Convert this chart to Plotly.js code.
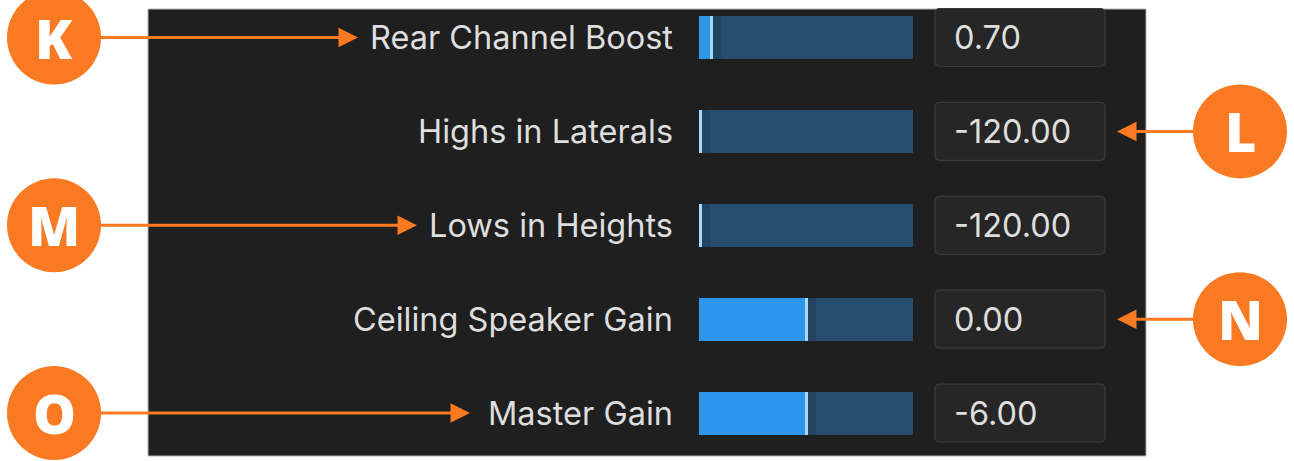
<!DOCTYPE html>
<html>
<head>
<meta charset="utf-8">
<script src="https://cdn.plot.ly/plotly-3.0.1.min.js"></script>
<style>html,body{margin:0;padding:0;background:#fff;}#chart{width:1294px;height:461px;}</style>
</head>
<body>
<div id="chart"></div>
<script>
// ---- data ----
const labels = ["Rear Channel Boost", "Highs in Laterals", "Lows in Heights", "Ceiling Speaker Gain", "Master Gain"];
const values = [0.70, -120.00, -120.00, 0.00, -6.00];
const sliderPos = [0.058, 0.007, 0.007, 0.5, 0.5];      // slider handle position (fraction of track)
const calloutLetters = ["K", "L", "M", "N", "O"];
const calloutSides = ["left", "right", "left", "right", "left"];

// ---- layout geometry (pixels) ----
const W = 1294, H = 461;
const trackL = 699, trackR = 913, trackPx = trackR - trackL;
const row0 = 37.5, rowStep = 93.9;
const barPx = 43;
const px2x = p => (p - trackL) / trackPx;
const idx = labels.map((_, i) => i);

const trackColor = "#264d6d", fillColor = "#2b96eb", handleColor = "#a8d6fa";
const orange = "#f97a22";
const textFont = {family: "Inter, 'Noto Sans', sans-serif", size: 32.5, color: "#dedede"};

const handleW = 3 / trackPx;
const traces = [
  {type: "bar", orientation: "h", y: idx, x: idx.map(() => 1), base: 0, width: barPx / rowStep,
   marker: {color: trackColor, line: {width: 0}}, hoverinfo: "skip"},
  {type: "bar", orientation: "h", y: idx, x: sliderPos, base: 0, width: barPx / rowStep,
   marker: {color: fillColor, line: {width: 0}}, hoverinfo: "skip"},
  {type: "bar", orientation: "h", y: idx, x: sliderPos.map(() => 8 / trackPx), base: sliderPos.map(p => p + handleW / 2),
   width: barPx / rowStep, marker: {color: "rgba(20,45,70,0.25)", line: {width: 0}}, hoverinfo: "skip"},
  {type: "bar", orientation: "h", y: idx, x: sliderPos.map(() => handleW), base: sliderPos.map(p => p - handleW / 2),
   width: barPx / rowStep, marker: {color: handleColor, line: {width: 0}}, hoverinfo: "skip"}
];

const shapes = [];
// dark panel
shapes.push({type: "rect", xref: "paper", yref: "paper", x0: 148 / W, x1: 1146 / W, y0: 1 - 456 / H, y1: 1 - 9 / H,
  fillcolor: "#1f1f1f", line: {color: "#b5b5b5", width: 1}, layer: "below"});
// value boxes (rounded)
const bx0 = px2x(935), bx1 = px2x(1105), bh = 58 / rowStep / 2, rx = 5 / trackPx, ry = 5 / rowStep;
idx.forEach(i => {
  const y0 = i - bh, y1 = i + bh;
  const p = `M ${bx0 + rx},${y0} L ${bx1 - rx},${y0} Q ${bx1},${y0} ${bx1},${y0 + ry} L ${bx1},${y1 - ry} Q ${bx1},${y1} ${bx1 - rx},${y1} L ${bx0 + rx},${y1} Q ${bx0},${y1} ${bx0},${y1 - ry} L ${bx0},${y0 + ry} Q ${bx0},${y0} ${bx0 + rx},${y0} Z`;
  shapes.push({type: "path", xref: "x", yref: "y", path: p, fillcolor: "#262626", line: {color: "#3b3b3b", width: 1.2}, layer: "below"});
});

const annotations = [];
idx.forEach(i => {
  annotations.push({xref: "paper", yref: "y", x: 675 / W, y: i, xanchor: "right", yanchor: "middle", showarrow: false,
    text: labels[i], font: textFont});
  annotations.push({xref: "x", yref: "y", x: px2x(952), y: i, xanchor: "left", yanchor: "middle", showarrow: false,
    text: values[i].toFixed(2), font: textFont});
});

// callouts
const R = 47;
const tipPx = {K: 358, L: 1117, M: 417, N: 1117, O: 470};
idx.forEach(i => {
  const letter = calloutLetters[i], side = calloutSides[i];
  const cx = side === "left" ? 54 : 1240;
  shapes.push({type: "circle", xref: "paper", yref: "y", xsizemode: "pixel", ysizemode: "pixel",
    xanchor: cx / W, yanchor: i, x0: -R, x1: R, y0: -R, y1: R,
    fillcolor: orange, line: {width: 0}, layer: "above"});
  const tip = tipPx[letter];
  annotations.push({xref: "paper", yref: "y", x: tip / W, y: i, ax: cx - tip, ay: 0, axref: "pixel", ayref: "pixel",
    showarrow: true, arrowhead: 2, arrowsize: 1.3, arrowwidth: 3, arrowcolor: orange, standoff: 0,
    text: letter, font: {family: "'Open Sans', sans-serif", size: 54, color: "#ffffff", weight: 800},
    xanchor: "center", yanchor: "middle"});
});

const layout = {
  width: W, height: H, margin: {l: 0, r: 0, t: 0, b: 0},
  paper_bgcolor: "#ffffff", plot_bgcolor: "rgba(0,0,0,0)",
  showlegend: false, barmode: "overlay", bargap: 0,
  xaxis: {range: [px2x(0), px2x(W)], domain: [0, 1], visible: false, fixedrange: true},
  yaxis: {range: [(H - row0) / rowStep, -row0 / rowStep], visible: false, fixedrange: true},
  shapes: shapes, annotations: annotations
};
Plotly.newPlot("chart", traces, layout, {staticPlot: true, displayModeBar: false});
</script>
</body>
</html>
